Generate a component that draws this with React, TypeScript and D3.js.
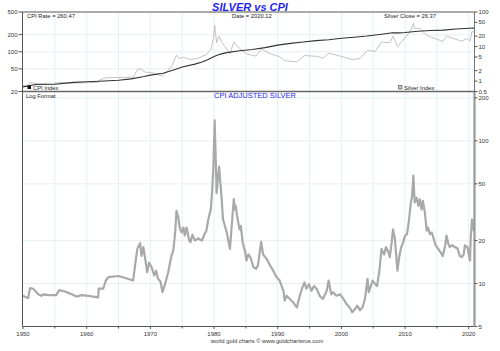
import React from "react";
import * as d3 from "d3";

// CPI adjusted silver (bottom panel), [year, value]
const adjustedSilver: [number, number][] = [
  [1950.0, 8.2], [1950.8, 7.9], [1951.1, 9.3], [1951.6, 9.2], [1952.4, 8.4], [1952.9, 8.2],
  [1953.2, 8.4], [1954.0, 8.3], [1955.2, 8.3], [1955.7, 9.0], [1956.6, 8.8], [1957.4, 8.5],
  [1958.4, 8.1], [1959.2, 8.3], [1960.3, 8.2], [1961.8, 8.0], [1961.9, 9.2], [1962.6, 9.2],
  [1963.0, 10.5], [1963.4, 11.1], [1965.0, 11.3], [1966.2, 10.9], [1967.3, 10.5], [1967.6, 13.4],
  [1967.95, 17.5], [1968.4, 19.2], [1968.6, 15.6], [1968.9, 18.0], [1969.2, 14.8], [1969.5, 12.0],
  [1969.8, 14.0], [1970.2, 13.0], [1970.6, 11.4], [1970.9, 12.3], [1971.2, 10.8], [1971.6, 10.3],
  [1971.9, 8.7], [1972.3, 9.9], [1972.8, 12.0], [1973.3, 15.6], [1973.6, 17.0], [1973.9, 22.8],
  [1974.1, 32.3], [1974.4, 29.0], [1974.6, 24.7], [1974.9, 22.8], [1975.2, 24.7], [1975.4, 21.7],
  [1975.7, 24.7], [1976.1, 20.0], [1976.3, 19.5], [1976.6, 22.0], [1977.0, 20.0], [1977.5, 20.7],
  [1978.1, 20.0], [1978.4, 21.7], [1978.8, 23.5], [1979.1, 28.2], [1979.5, 33.3], [1979.7, 45],
  [1979.9, 66], [1980.1, 139], [1980.25, 79], [1980.4, 43], [1980.6, 54], [1980.8, 66],
  [1980.9, 57], [1981.2, 39], [1981.4, 28.2], [1981.7, 25.4], [1982.0, 22.8], [1982.2, 20.5],
  [1982.5, 17.5], [1982.7, 22.8], [1982.9, 30], [1983.1, 39], [1983.3, 33], [1983.4, 35],
  [1983.6, 30], [1984.0, 24], [1984.2, 25.4], [1984.5, 19.5], [1984.9, 16.5], [1985.1, 14.5],
  [1985.4, 16], [1985.7, 15.3], [1986.2, 13.0], [1986.6, 12.7], [1986.9, 13.4], [1987.2, 17],
  [1987.4, 19.6], [1987.7, 16], [1988.3, 14.8], [1988.8, 13.4], [1989.3, 12.3], [1989.8, 11.1],
  [1990.3, 10.5], [1990.9, 8.9], [1991.1, 7.6], [1991.4, 8.2], [1991.9, 7.8], [1992.4, 7.4],
  [1993.0, 6.8], [1993.4, 8.0], [1993.8, 9.2], [1994.2, 10.2], [1994.5, 9.2], [1994.9, 9.9],
  [1995.3, 8.9], [1995.7, 9.6], [1996.1, 9.2], [1996.6, 8.2], [1997.1, 7.8], [1997.7, 8.9],
  [1998.0, 10.5], [1998.4, 8.4], [1998.7, 8.7], [1999.2, 8.2], [1999.8, 8.4], [2000.3, 7.8],
  [2000.8, 7.2], [2001.3, 6.8], [2001.7, 6.3], [2002.1, 6.6], [2002.5, 7.0], [2002.9, 6.5],
  [2003.3, 6.8], [2003.7, 7.8], [2004.1, 10.8], [2004.3, 8.7], [2004.6, 9.5], [2004.9, 10.5],
  [2005.3, 9.9], [2005.6, 9.6], [2006.0, 12.7], [2006.3, 17.5], [2006.7, 16], [2007.0, 18],
  [2007.4, 16.5], [2007.6, 15.3], [2007.9, 19.5], [2008.1, 24], [2008.4, 20.5], [2008.8, 12.3],
  [2009.1, 15.6], [2009.4, 18], [2009.7, 19.5], [2010.0, 21.7], [2010.3, 22.2], [2010.6, 27.5],
  [2010.9, 37], [2011.1, 41], [2011.3, 57], [2011.4, 46], [2011.5, 37], [2011.8, 40],
  [2012.1, 35], [2012.3, 39], [2012.6, 33], [2012.8, 38], [2013.1, 31.5], [2013.4, 23.5],
  [2013.6, 24.7], [2013.9, 22.2], [2014.2, 22.8], [2014.5, 20.5], [2014.8, 18.5], [2015.2, 17.5],
  [2015.6, 16.5], [2015.9, 15.6], [2016.3, 18.5], [2016.5, 21.7], [2016.8, 19], [2017.0, 18],
  [2017.4, 18.6], [2017.8, 18], [2018.2, 17.7], [2018.6, 15.6], [2018.9, 15.3], [2019.2, 16],
  [2019.4, 18.5], [2019.8, 18], [2020.0, 16], [2020.2, 14.5], [2020.3, 20.5], [2020.5, 28.2],
  [2020.65, 25.4], [2020.8, 23.5], [2020.9, 26.4],
];

// CPI index (top panel, left axis)
const cpiIndex: [number, number][] = [
  [1950, 24.1], [1952, 26.5], [1955, 26.8], [1958, 28.9], [1960, 29.6], [1962, 30.2],
  [1965, 31.5], [1967, 33.4], [1969, 36.7], [1970, 38.8], [1972, 41.8], [1974, 49.3],
  [1975, 53.8], [1977, 60.6], [1978, 65.2], [1979, 72.6], [1980, 82.4], [1981, 90.9],
  [1982, 96.5], [1984, 103.9], [1986, 109.6], [1988, 118.3], [1990, 130.7], [1992, 140.3],
  [1994, 148.2], [1996, 156.9], [1998, 163.0], [2000, 172.2], [2002, 179.9], [2004, 188.9],
  [2006, 201.6], [2008, 215.3], [2009, 214.5], [2010, 218.1], [2012, 229.6], [2014, 236.7],
  [2016, 240.0], [2018, 251.1], [2020, 258.8], [2020.9, 260.47],
];

// nominal silver close (top panel, right axis)
const silverClose: [number, number][] = [
  [1950, 0.74], [1950.8, 0.72], [1951.1, 0.9], [1952.4, 0.84], [1955.2, 0.87], [1955.7, 0.91],
  [1958.4, 0.88], [1960.3, 0.91], [1961.8, 0.92], [1961.9, 1.05], [1963.0, 1.25], [1967.3, 1.29],
  [1967.95, 2.1], [1968.4, 2.3], [1969.2, 1.8], [1970.2, 1.77], [1971.2, 1.55], [1971.9, 1.39],
  [1973.3, 2.6], [1974.1, 5.6], [1974.6, 4.5], [1975.2, 4.9], [1976.3, 4.2], [1977.5, 4.6],
  [1978.8, 5.9], [1979.5, 8.2], [1979.9, 17], [1980.1, 42], [1980.4, 13], [1980.8, 20],
  [1981.2, 13.5], [1982.5, 6.2], [1983.1, 13.5], [1984.0, 8.8], [1985.1, 6.1], [1986.6, 5.3],
  [1987.4, 8.4], [1988.8, 6.2], [1990.3, 5.1], [1991.1, 3.9], [1993.0, 3.6], [1994.2, 5.5],
  [1996.1, 5.2], [1997.1, 4.6], [1998.0, 6.4], [1999.8, 5.3], [2001.7, 4.2], [2002.9, 4.5],
  [2004.1, 7.8], [2005.3, 7.2], [2006.3, 13.5], [2007.6, 12.9], [2008.1, 20], [2008.8, 10],
  [2010.0, 17.8], [2010.9, 29], [2011.3, 47], [2011.5, 33], [2012.3, 34], [2013.4, 21],
  [2014.8, 17], [2015.9, 14], [2016.5, 20], [2018.9, 14.3], [2019.8, 17.5], [2020.2, 14.3],
  [2020.5, 27], [2020.9, 26.37],
];

const xMajorTicks = [1950, 1960, 1970, 1980, 1990, 2000, 2010, 2020];
const xMinorTicks = [1955, 1965, 1975, 1985, 1995, 2005, 2015];
const topLeftTicks = [20, 50, 100, 200, 500];
const topRightTicks = [0.5, 1, 2, 5, 10, 20, 50, 100];
const bottomTicks = [5, 10, 20, 50, 100, 200];

const W = 500;
const H = 351;
const left = 22.5;
const right = 474.5;
const topY = 12;
const midY = 91.5;
const bottomY = 326.5;
const font = "'Liberation Sans', Arial, sans-serif";
const gridColor = "#e4f0f8";

export default function App() {
  const x = d3.scaleLinear().domain([1950, 2020.9]).range([23, 474.5]);
  const yCpi = d3.scaleLog().domain([20, 500]).range([midY, topY]);
  const ySilverTop = d3.scaleLog().domain([0.5, 100]).range([midY, topY]);
  const yAdj = d3.scaleLog().domain([5, 220]).range([bottomY, 92]);

  const lineCpi = d3.line<[number, number]>().x((d) => x(d[0])).y((d) => yCpi(d[1]));
  const lineTopSilver = d3
    .line<[number, number]>()
    .x((d) => x(d[0]))
    .y((d) => ySilverTop(d[1]));
  const lineAdj = d3.line<[number, number]>().x((d) => x(d[0])).y((d) => yAdj(d[1]));

  const gridYears = [...xMinorTicks, ...xMajorTicks.slice(1)];

  return (
    <svg
      width={W}
      height={H}
      style={{ position: "absolute", left: 0, top: 0, background: "#fff" }}
      fontFamily={font}
    >
      <defs>
        <clipPath id="clipTop">
          <rect x={left} y={topY} width={right - left} height={midY - topY} />
        </clipPath>
        <clipPath id="clipBottom">
          <rect x={left} y={midY} width={right - left} height={bottomY - midY} />
        </clipPath>
      </defs>

      {/* gridlines */}
      {gridYears.map((yr) => (
        <line key={"vg" + yr} x1={x(yr)} x2={x(yr)} y1={topY} y2={bottomY} stroke={gridColor} />
      ))}
      {[50, 100, 200].map((v) => (
        <line key={"tg" + v} x1={left} x2={right} y1={yCpi(v)} y2={yCpi(v)} stroke={gridColor} />
      ))}
      {[10, 20, 50, 100, 200].map((v) => (
        <line key={"bg" + v} x1={left} x2={right} y1={yAdj(v)} y2={yAdj(v)} stroke={gridColor} />
      ))}

      {/* top panel lines */}
      <g clipPath="url(#clipTop)">
        <path d={lineTopSilver(silverClose) ?? ""} fill="none" stroke="#b4b4b4" strokeWidth={0.8} />
        <path d={lineCpi(cpiIndex) ?? ""} fill="none" stroke="#333" strokeWidth={1.1} />
      </g>

      {/* bottom panel line */}
      <g clipPath="url(#clipBottom)">
        <path
          d={lineAdj(adjustedSilver) ?? ""}
          fill="none"
          stroke="#a9a9a9"
          strokeWidth={2.2}
          strokeLinejoin="round"
        />
      </g>

      {/* frame */}
      <line x1={left} x2={right} y1={topY} y2={topY} stroke="#555" strokeWidth={1} />
      <line x1={left} x2={right + 1} y1={midY} y2={midY} stroke="#666" strokeWidth={1.5} />
      <line x1={left} x2={left} y1={topY} y2={bottomY} stroke="#555" strokeWidth={1} />
      <line x1={left} x2={right} y1={bottomY} y2={bottomY} stroke="#555" strokeWidth={1} />
      <line x1={right} x2={right} y1={topY} y2={midY} stroke="#777" strokeWidth={1} />
      <line x1={right} x2={right} y1={midY} y2={bottomY} stroke="#999" strokeWidth={2.2} />

      {/* top left axis */}
      {topLeftTicks.map((v) => (
        <g key={"tl" + v}>
          <line x1={left - 4} x2={left} y1={yCpi(v)} y2={yCpi(v)} stroke="#555" />
          <text x={left - 5} y={yCpi(v) + 2} fontSize={6} textAnchor="end" fill="#333">
            {v}
          </text>
        </g>
      ))}

      {/* top right axis */}
      {topRightTicks.map((v) => (
        <g key={"tr" + v}>
          <line x1={right} x2={right + 3} y1={ySilverTop(v)} y2={ySilverTop(v)} stroke="#555" />
          <text x={right + 4} y={ySilverTop(v) + 2} fontSize={6} fill="#333">
            {v}
          </text>
        </g>
      ))}

      {/* bottom right axis */}
      {bottomTicks.map((v) => (
        <g key={"br" + v}>
          <line x1={right} x2={right + 3} y1={yAdj(v)} y2={yAdj(v)} stroke="#555" />
          <text x={right + 4} y={yAdj(v) + 2} fontSize={6} fill="#333">
            {v}
          </text>
        </g>
      ))}

      {/* x axis */}
      {xMinorTicks.map((yr) => (
        <line key={"xm" + yr} x1={x(yr)} x2={x(yr)} y1={bottomY} y2={bottomY + 2} stroke="#555" />
      ))}
      {xMajorTicks.map((yr) => (
        <g key={"xM" + yr}>
          <line x1={x(yr)} x2={x(yr)} y1={bottomY} y2={bottomY + 2.5} stroke="#555" />
          <text x={x(yr)} y={bottomY + 9} fontSize={6} textAnchor="middle" fill="#333">
            {yr}
          </text>
        </g>
      ))}

      {/* titles and labels */}
      <text
        x={250}
        y={10.5}
        fontSize={11}
        fontWeight="bold"
        fontStyle="italic"
        textAnchor="middle"
        fill="#1f1ff0"
      >
        SILVER vs CPI
      </text>
      <text x={27} y={18} fontSize={5.8} fill="#222">
        CPI Rate = 260.47
      </text>
      <text x={232} y={18} fontSize={5.8} fill="#222">
        Date = 2020.12
      </text>
      <text x={436} y={18} fontSize={5.8} textAnchor="end" fill="#222">
        Silver Close = 26.37
      </text>

      <rect x={27.5} y={85.5} width={3.5} height={3.5} fill="#111" />
      <text x={33} y={89.5} fontSize={5.8} fill="#222">
        CPI Index
      </text>
      <rect x={398.5} y={85.5} width={3.5} height={3.5} fill="#ccc" stroke="#444" strokeWidth={0.6} />
      <text x={404} y={89.5} fontSize={5.8} fill="#222">
        Silver Index
      </text>

      <text x={26} y={97.5} fontSize={5.8} fill="#222">
        Log Format
      </text>
      <text x={255} y={98} fontSize={7.5} textAnchor="middle" fill="#2a2af0">
        CPI ADJUSTED SILVER
      </text>

      <text x={267} y={343} fontSize={5.8} textAnchor="middle" fill="#333">
        world gold charts © www.goldchartsrus.com
      </text>
    </svg>
  );
}
